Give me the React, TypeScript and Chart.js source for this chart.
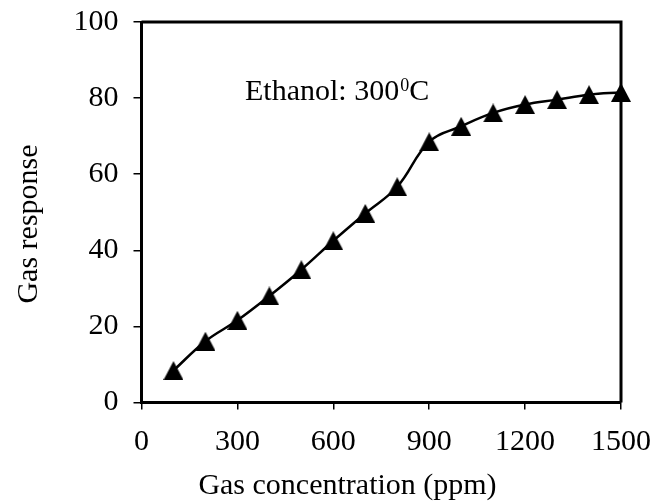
import React, { useEffect, useRef } from "react";
import { Chart, registerables } from "chart.js";

Chart.register(...registerables);

const CONCENTRATION = [100, 200, 300, 400, 500, 600, 700, 800, 900, 1000, 1100, 1200, 1300, 1400, 1500];
const RESPONSE = [8.4, 16.1, 21.6, 28.0, 34.9, 42.5, 49.7, 56.7, 68.5, 72.6, 76.1, 78.3, 79.6, 80.9, 81.5];
const X_TITLE = "Gas concentration (ppm)";
const Y_TITLE = "Gas response";
const NOTE_MAIN = "Ethanol: 300";
const NOTE_SUP = "0";
const NOTE_END = "C";

const FONT = "Liberation Serif, 'Times New Roman', serif";

function makeTriangle(): HTMLCanvasElement {
  const c = document.createElement("canvas");
  c.width = 20;
  c.height = 19;
  const g = c.getContext("2d")!;
  g.fillStyle = "#000";
  g.beginPath();
  g.moveTo(10, 0);
  g.lineTo(20, 19);
  g.lineTo(0, 19);
  g.closePath();
  g.fill();
  return c;
}

export default function App() {
  const ref = useRef<HTMLCanvasElement | null>(null);

  useEffect(() => {
    document.body.style.margin = "0";
    const canvas = ref.current!;
    const tri = makeTriangle();

    const decor = {
      id: "decor",
      afterDraw(chart: any) {
        const ctx = chart.ctx;
        const a = chart.chartArea;
        ctx.save();
        ctx.strokeStyle = "#000";
        ctx.lineWidth = 3;
        ctx.beginPath();
        ctx.moveTo(a.left, a.top);
        ctx.lineTo(a.right, a.top);
        ctx.lineTo(a.right, a.bottom);
        ctx.stroke();

        ctx.fillStyle = "#000";
        ctx.textBaseline = "alphabetic";
        ctx.font = `30px ${FONT}`;
        ctx.textAlign = "center";
        ctx.fillText(X_TITLE, 347.5, 494);
        ctx.save();
        ctx.translate(37, 224);
        ctx.rotate(-Math.PI / 2);
        ctx.fillText(Y_TITLE, 0, 0);
        ctx.restore();
        ctx.textAlign = "left";
        let x = 245;
        const base = 100;
        ctx.font = `30px ${FONT}`;
        ctx.fillText(NOTE_MAIN, x, base);
        x += ctx.measureText(NOTE_MAIN).width + 1;
        ctx.font = `18px ${FONT}`;
        ctx.fillText(NOTE_SUP, x, base - 9);
        x += ctx.measureText(NOTE_SUP).width;
        ctx.font = `30px ${FONT}`;
        ctx.fillText(NOTE_END, x, base);
        ctx.restore();
      },
    };

    const chart = new Chart(canvas, {
      type: "line",
      data: {
        datasets: [
          {
            data: CONCENTRATION.map((c, i) => ({ x: c, y: RESPONSE[i] })),
            borderColor: "#000",
            backgroundColor: "#000",
            borderWidth: 2.5,
            tension: 0.4,
            pointStyle: tri as any,
            pointRadius: 10,
            clip: false as any,
          },
        ],
      },
      options: {
        animation: false,
        responsive: false,
        devicePixelRatio: 1,
        layout: { padding: { top: 22, right: 44, left: 0, bottom: 0 } },
        plugins: { legend: { display: false }, tooltip: { enabled: false } },
        scales: {
          x: {
            type: "linear",
            min: 0,
            max: 1500,
            ticks: {
              stepSize: 300,
              color: "#000",
              font: { family: FONT, size: 30 },
              padding: 15,
              maxRotation: 0,
              callback: (v: any) => String(v),
            },
            grid: { drawOnChartArea: false, drawTicks: true, tickLength: 7, color: "#000", lineWidth: 1.5 },
            border: { display: true, color: "#000", width: 3 },
            afterFit: (s: any) => {
              s.height = 99.5;
              s.paddingLeft = 0;
              s.paddingRight = 0;
            },
          },
          y: {
            min: 0,
            max: 100,
            ticks: {
              stepSize: 20,
              color: "#000",
              font: { family: FONT, size: 30 },
              padding: 15,
              callback: (v: any) => String(v),
            },
            grid: { drawOnChartArea: false, drawTicks: true, tickLength: 8, color: "#000", lineWidth: 1.5 },
            border: { display: true, color: "#000", width: 3 },
            afterFit: (s: any) => {
              s.width = 141.5;
              s.paddingTop = 0;
              s.paddingBottom = 0;
            },
          },
        },
      },
      plugins: [decor],
    });
    return () => chart.destroy();
  }, []);

  return <canvas ref={ref} width={665} height={502} style={{ display: "block" }} />;
}
